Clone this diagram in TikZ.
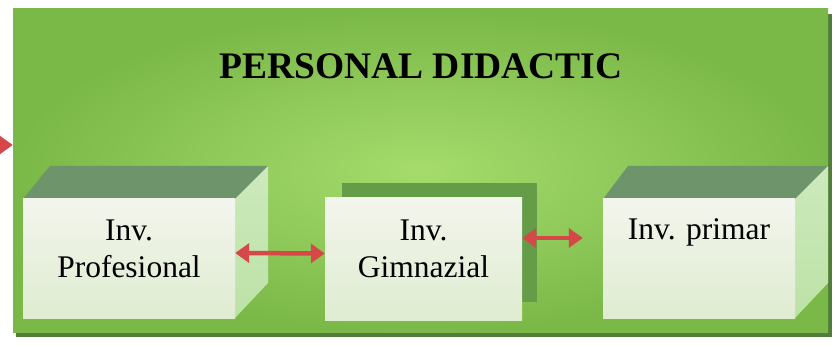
\documentclass[tikz,border=0pt]{standalone}
\usepackage{fontspec}
\setmainfont{Liberation Serif}
\usetikzlibrary{arrows.meta}
\definecolor{panelL}{RGB}{165,220,108}
\definecolor{panelD}{RGB}{122,184,72}
\definecolor{panelS}{RGB}{80,125,58}
\definecolor{topF}{RGB}{110,148,108}
\definecolor{sideF}{RGB}{188,226,166}
\definecolor{frontL}{RGB}{243,245,237}
\definecolor{frontG}{RGB}{222,236,208}
\definecolor{backS}{RGB}{100,156,72}
\definecolor{redA}{RGB}{214,72,72}
\tikzset{
  panelbox/.style={shade, inner color=panelL, outer color=panelD, minimum width=815pt, minimum height=323pt, inner sep=0pt},
  frontbox/.style={shade, top color=frontL, bottom color=frontG, minimum width=#1, minimum height=119pt, inner sep=0pt, align=center, font=\fontsize{31.5}{37}\selectfont},
  topface/.style={fill=topF},
  sideface/.style={top color=sideF!75!white, bottom color=sideF},
  fatarrow/.style={draw=redA, line width=4.5pt, {Triangle[width=19pt,length=14pt]}-{Triangle[width=19pt,length=14pt]}},
  inarrow/.style={draw=redA, line width=4.5pt, -{Triangle[width=19pt,length=14pt]}},
  title/.style={font=\fontsize{37.5}{40}\selectfont\bfseries, text=black}
}
\begin{document}
\begin{tikzpicture}[x=1pt,y=-1pt]
\clip (0,0) rectangle (835,347);
\fill[white] (0,0) rectangle (835,347);
% panel
\fill[panelS] (16,14) rectangle (832,337);
\node[panelbox] (panel) at (420.5,170.5) {};
\node[title] (t) at (421,66) {PERSONAL DIDACTIC};
% box 1
\fill[topface] (23,199) -- (50,166) -- (268,166) -- (235,199) -- cycle;
\shade[sideface] (235,199) -- (268,166) -- (268,283) -- (235,318) -- cycle;
\node[frontbox=212pt, text depth=20pt] (b1) at (129,258.5) {Inv.\\Profesional};
% box 2
\fill[backS] (342,183) rectangle (537,302);
\node[frontbox=197pt, minimum height=122pt, text depth=20pt] (b2) at (423.5,259) {Inv.\\Gimnazial};
% box 3
\fill[topface] (603,199) -- (628,166) -- (828,166) -- (795,199) -- cycle;
\shade[sideface] (795,199) -- (828,166) -- (828,283) -- (795,318) -- cycle;
\node[frontbox=192pt, text height=22pt, text depth=59pt] (b3) at (699,258.5) {Inv. primar};
% arrows
\draw[fatarrow] ([yshift=5.5pt]b1.east) -- ([yshift=5.5pt]b2.west);
\draw[fatarrow, shorten >=20pt] ([yshift=21pt]b2.east) -- ([yshift=20.5pt]b3.west);
\coordinate (lin) at (-40,145);
\draw[inarrow] (lin) -- (panel.west |- lin);
\end{tikzpicture}
\end{document}
